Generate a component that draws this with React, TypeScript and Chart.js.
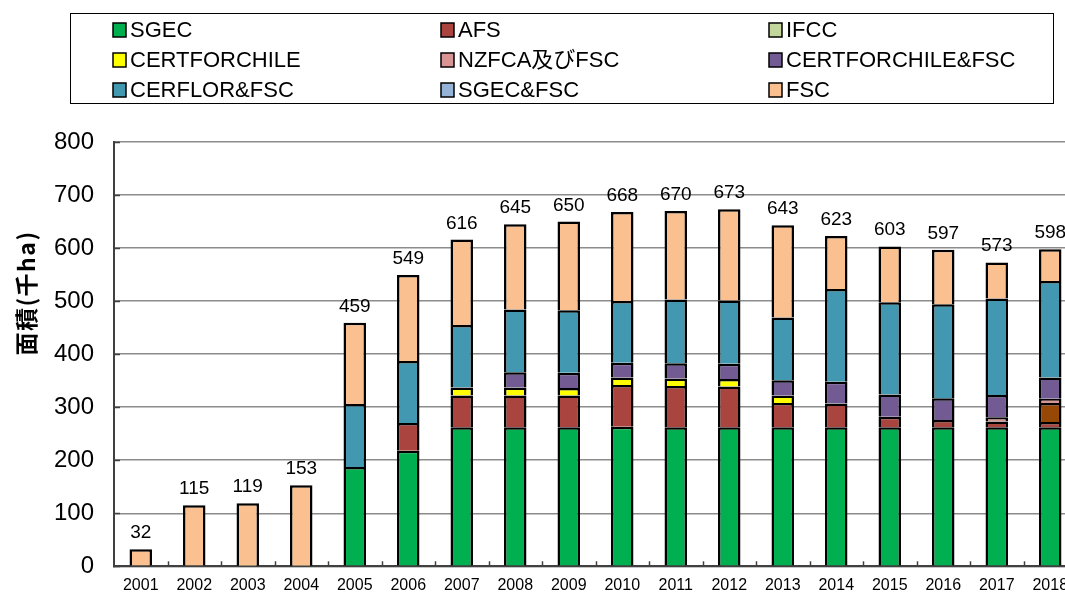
import React, { useEffect, useRef } from 'react';
import { Chart, registerables } from 'chart.js';

Chart.register(...registerables);

// ---------- data ----------
const years = ['2001', '2002', '2003', '2004', '2005', '2006', '2007', '2008', '2009', '2010', '2011', '2012', '2013', '2014', '2015', '2016', '2017', '2018'];

const sgec = [0, 0, 1, 1, 187, 218, 262, 262, 262, 263, 262, 262, 262, 262, 262, 262, 262, 262];
const afs = [0, 0, 0, 0, 0, 52, 60, 60, 60, 79, 78, 77, 46, 45, 20, 14, 11, 10];
const ifcc = [0, 0, 0, 0, 0, 0, 0, 0, 0, 0, 0, 0, 0, 0, 0, 0, 0, 36];
const certforchile = [0, 0, 0, 0, 0, 0, 15, 15, 14, 14, 14, 14, 14, 0, 0, 0, 0, 0];
const nzfcaFsc = [0, 0, 0, 0, 0, 0, 0, 0, 0, 0, 0, 0, 0, 0, 0, 0, 8, 8];
const certforchileFsc = [0, 0, 0, 0, 0, 0, 0, 29, 29, 28, 29, 29, 29, 41, 42, 41, 42, 40];
const cerflorFsc = [0, 0, 0, 0, 119, 117, 118, 118, 118, 116, 120, 119, 118, 175, 174, 177, 182, 182];
const sgecFsc = [0, 0, 0, 0, 0, 0, 0, 0, 0, 0, 0, 0, 0, 0, 0, 0, 0, 0];
const fsc = [32, 115, 118, 152, 153, 162, 161, 161, 167, 168, 167, 172, 174, 100, 105, 103, 68, 60];

const seriesLabels = ['SGEC', 'AFS', 'IFCC', 'CERTFORCHILE', 'NZFCA及びFSC', 'CERTFORCHILE&FSC', 'CERFLOR&FSC', 'SGEC&FSC', 'FSC'];
const seriesValues = [sgec, afs, ifcc, certforchile, nzfcaFsc, certforchileFsc, cerflorFsc, sgecFsc, fsc];
const seriesColors = ['#00B050', '#A9443F', '#C3D69B', '#FFFF00', '#D99594', '#725A93', '#4298B0', '#95B3D7', '#FAC090'];
const IFCC_SPECIAL_YEAR = '2018';
const IFCC_SPECIAL_COLOR = '#974806';

const yTitle = '面積(千ha)';

// ---------- styling ----------
const FONT = '"Liberation Sans", Arial, "Noto Sans CJK JP", sans-serif';
const CJK_FONT = '"Noto Sans CJK JP", "Liberation Sans", sans-serif';

const legendPlugin = {
  id: 'gridLegend',
  afterDraw(chart: any) {
    const ctx = chart.ctx;
    ctx.save();
    ctx.strokeStyle = '#000';
    ctx.lineWidth = 1;
    ctx.strokeRect(70.5, 13.5, 983, 90);
    const colX = [113, 441, 769];
    const rowY = [30, 60, 90];
    chart.data.datasets.forEach((ds: any, i: number) => {
      const x = colX[i % 3];
      const y = rowY[Math.floor(i / 3)];
      ctx.fillStyle = ds.legendColor;
      ctx.fillRect(x, y - 7, 13, 14);
      ctx.lineWidth = 1.5;
      ctx.strokeStyle = '#000';
      ctx.strokeRect(x, y - 7, 13, 14);
      ctx.fillStyle = '#000';
      ctx.font = '22px ' + FONT;
      ctx.textAlign = 'left';
      ctx.textBaseline = 'middle';
      ctx.fillText(ds.label, x + 17, y + 1);
    });
    ctx.restore();
  },
};

const yTitlePlugin = {
  id: 'yTitle',
  afterDraw(chart: any) {
    const ctx = chart.ctx;
    ctx.save();
    ctx.translate(26, 293);
    ctx.rotate(-Math.PI / 2);
    ctx.font = 'bold 23px ' + CJK_FONT;
    try { (ctx as any).letterSpacing = '1.5px'; } catch (e) { /* ignore */ }
    ctx.fillStyle = '#000';
    ctx.textAlign = 'center';
    ctx.textBaseline = 'middle';
    ctx.fillText(yTitle, 0, 0);
    ctx.restore();
  },
};

const extrasPlugin = {
  id: 'extras',
  afterDatasetsDraw(chart: any) {
    const ctx = chart.ctx;
    const xs = chart.scales.x;
    const ys = chart.scales.y;
    const area = chart.chartArea;
    ctx.save();
    // inner tick marks
    ctx.strokeStyle = '#404040';
    ctx.lineWidth = 1.5;
    ys.ticks.forEach((_: any, i: number) => {
      const py = Math.round(ys.getPixelForTick(i)) + 0.5;
      ctx.beginPath();
      ctx.moveTo(area.left, py);
      ctx.lineTo(area.left + 6, py);
      ctx.stroke();
    });
    const n = chart.data.labels.length;
    for (let i = 1; i < n; i++) {
      const px = Math.round((xs.getPixelForValue(i - 1) + xs.getPixelForValue(i)) / 2) + 0.5;
      ctx.beginPath();
      ctx.moveTo(px, area.bottom);
      ctx.lineTo(px, area.bottom - 5);
      ctx.stroke();
    }
    // totals
    ctx.fillStyle = '#000';
    ctx.font = '19px ' + FONT;
    ctx.textAlign = 'center';
    ctx.textBaseline = 'alphabetic';
    for (let i = 0; i < n; i++) {
      let total = 0;
      chart.data.datasets.forEach((ds: any) => { total += ds.data[i] || 0; });
      const px = xs.getPixelForValue(i);
      const py = ys.getPixelForValue(total);
      ctx.fillText(String(total), px, py - 11);
    }
    ctx.restore();
  },
};

export default function App() {
  const canvasRef = useRef<HTMLCanvasElement | null>(null);

  useEffect(() => {
    if (!canvasRef.current) return;
    const datasets = seriesLabels.map((label, k) => ({
      label,
      data: seriesValues[k],
      legendColor: seriesColors[k],
      backgroundColor:
        label === 'IFCC'
          ? years.map((y) => (y === IFCC_SPECIAL_YEAR ? IFCC_SPECIAL_COLOR : seriesColors[k]))
          : seriesColors[k],
      borderColor: '#000',
      borderWidth: 2.5,
      barPercentage: 0.42,
      categoryPercentage: 1,
    }));
    const chart = new Chart(canvasRef.current, {
      type: 'bar',
      data: { labels: years, datasets: datasets as any },
      options: {
        responsive: false,
        animation: false,
        devicePixelRatio: 1,
        layout: { padding: { top: 142, bottom: 3.7, left: 0, right: 8 } },
        plugins: {
          legend: { display: false },
          tooltip: { enabled: false },
          title: { display: false },
        },
        scales: {
          x: {
            stacked: true,
            grid: { display: false, drawTicks: false },
            border: { display: true, color: '#404040', width: 2 },
            ticks: {
              color: '#000',
              font: { size: 16, family: FONT },
              padding: 10,
              maxRotation: 0,
              autoSkip: false,
            },
            afterFit: (s: any) => { s.height = 40; },
          },
          y: {
            stacked: true,
            min: 0,
            max: 800,
            ticks: {
              stepSize: 100,
              color: '#000',
              font: { size: 24, family: FONT },
              padding: 20,
            },
            grid: { color: '#8c8c8c', lineWidth: 1.5, drawTicks: false },
            border: { display: true, color: '#404040', width: 2 },
            afterFit: (s: any) => { s.width = 114; },
          },
        },
      } as any,
      plugins: [extrasPlugin, legendPlugin, yTitlePlugin],
    });
    return () => chart.destroy();
  }, []);

  return (
    <div style={{ position: 'absolute', left: 0, top: 0, width: 1065, height: 594, overflow: 'hidden', background: '#fff' }}>
      <canvas ref={canvasRef} width={1085} height={610} style={{ display: 'block' }} />
    </div>
  );
}
